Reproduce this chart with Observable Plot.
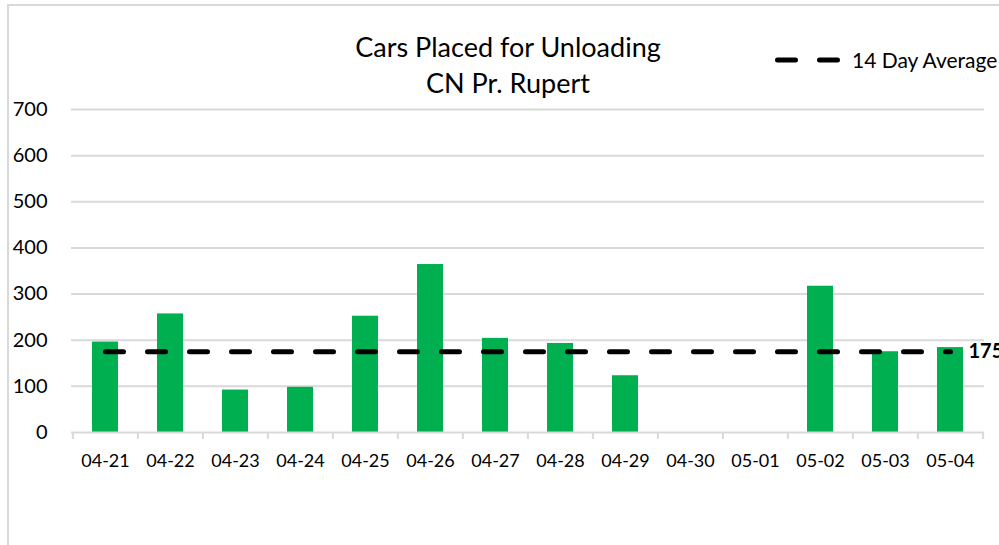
<!DOCTYPE html>
<html><head><meta charset="utf-8">
<script src="https://cdn.jsdelivr.net/npm/d3@7"></script>
<script src="https://cdn.jsdelivr.net/npm/@observablehq/plot@0.6"></script>
<style>
body{margin:0;background:#fff;font-family:Lato, "Open Sans", sans-serif;color:#000;}
#wrap{position:relative;width:999px;height:545px;overflow:hidden;background:#fff;}
#frame{position:absolute;left:7px;top:4px;width:1100px;height:700px;border-left:2px solid #d9d9d9;border-top:2px solid #d9d9d9;}
#title{position:absolute;left:308px;width:400px;top:29px;text-align:center;font-size:27px;line-height:36px;}
#legend{position:absolute;left:770px;top:48px;height:24px;white-space:nowrap;font-size:21px;line-height:24px;}
#legend svg{vertical-align:top;}
#chart{position:absolute;left:0;top:0;}
</style>
</head><body>
<div id="wrap">
  <div id="frame"></div>
  <div id="chart"></div>
  <div id="title">Cars Placed for Unloading<br>CN Pr. Rupert</div>
  <div id="legend"></div>
</div>
<script>
const dates = ["04-21","04-22","04-23","04-24","04-25","04-26","04-27","04-28","04-29","04-30","05-01","05-02","05-03","05-04"];
const cars = [196, 257, 92, 98, 252, 364, 204, 193, 123, 0, 0, 317, 175, 184];
const average = 175;
const yTicks = [0, 100, 200, 300, 400, 500, 600, 700];
const seriesNames = ["Cars Placed", "14 Day Average"];

const data = dates.map((d, i) => ({date: d, cars: cars[i], avg: average}));

const W = 999, H = 545, mL = 71, mR = 15, mT = 109, mB = 113;
const step = (W - mL - mR) / dates.length;

const chart = Plot.plot({
  width: W, height: H,
  marginLeft: mL, marginRight: mR, marginTop: mT, marginBottom: mB,
  style: {fontFamily: "Lato, 'Open Sans', sans-serif", background: "transparent", color: "#000", overflow: "visible"},
  x: {domain: dates, paddingInner: 0.6, paddingOuter: 0.3, label: null},
  y: {domain: [0, 700], label: null},
  marks: [
    Plot.gridY(yTicks.filter(t => t > 0), {stroke: "#d9d9d9", strokeOpacity: 1, strokeWidth: 2}),
    Plot.barY(data, {x: "date", y: "cars", fill: "#00b050"}),
    Plot.ruleY([0], {stroke: "#d9d9d9", strokeWidth: 2}),
    Plot.ruleX(dates, {x: d => d, y1: 0, y2: 0, dx: -step / 2, insetBottom: -7, stroke: "#d9d9d9", strokeWidth: 2}),
    Plot.ruleX([dates[dates.length - 1]], {x: d => d, y1: 0, y2: 0, dx: step / 2, insetBottom: -7, stroke: "#d9d9d9", strokeWidth: 2}),
    Plot.lineY(data, {x: "date", y: "avg", stroke: "#000", strokeWidth: 5, strokeDasharray: "18,24", strokeLinecap: "round"}),
    Plot.text([data[data.length - 1]], {x: "date", y: "avg", text: d => String(d.avg), dx: 18, textAnchor: "start", fontWeight: "bold", fontSize: 20, fill: "#000"}),
    Plot.axisY({ticks: yTicks, tickSize: 0, tickPadding: 24, fontSize: 20, tickFormat: d => String(d)}),
    Plot.axisX({tickSize: 0, tickPadding: 22, fontSize: 18})
  ]
});
document.getElementById("chart").appendChild(chart);

// legend
const leg = document.getElementById("legend");
leg.innerHTML = `<svg width="78" height="24"><line x1="7.5" x2="67.5" y1="12" y2="12" stroke="#000" stroke-width="5" stroke-dasharray="18,24" stroke-linecap="round"/></svg><span style="margin-left:4px">${seriesNames[1]}</span>`;
</script>
</body></html>
